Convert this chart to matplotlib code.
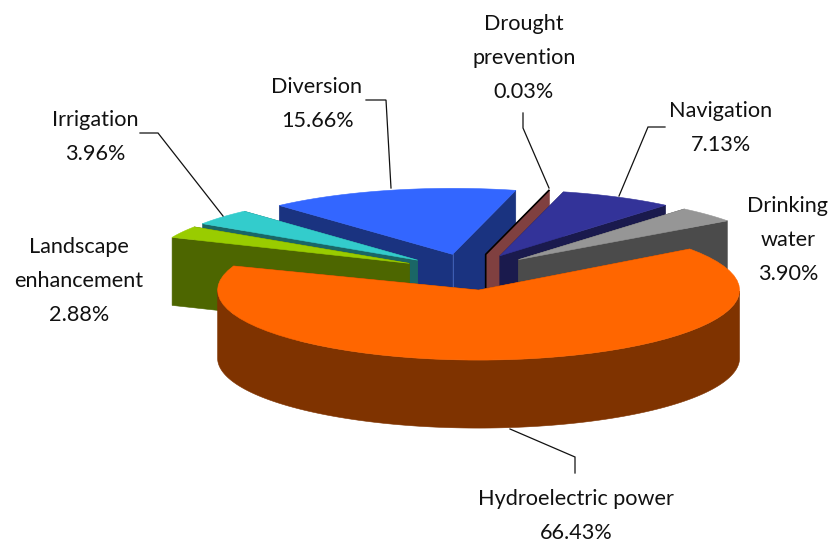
import numpy as np
import matplotlib
matplotlib.use('Agg')
import matplotlib.pyplot as plt
from matplotlib.patches import Polygon

# clockwise from the right hand side of the big slice
names = ['Hydroelectric power', 'Landscape\nenhancement', 'Irrigation', 'Diversion',
         'Drought\nprevention', 'Navigation', 'Drinking\nwater']
shares = [66.43, 2.88, 3.96, 15.66, 0.03, 7.13, 3.90]
top_colors = ['#FF6600', '#99CC00', '#33CCCC', '#3366FF', '#993333', '#333399', '#969696']
side_colors = ['#7F3300', '#4D6600', '#1A6666', '#1A3380', '#804040', '#1A1A4D', '#4B4B4B']

label_x = [576, 79, 95, 317, 524, 721, 788]
label_y = [516, 281, 137, 104, 58, 128, 240]

leaders = [
    ([575, 575, 510], [473, 457, 429]),
    ([140, 158, 223], [133, 133, 216]),
    ([366, 386, 391], [100, 100, 188]),
    ([523, 523, 549], [113, 128, 188]),
    ([665, 648, 619], [127, 127, 196]),
]

# pie geometry, in pixels
cx, cy = 469, 272
rx, ry = 261, 70
depth = 68
start = 36.
explode = 0.26
big_nudge = (2, 0)
big_tip = 3.   # the 3d view squeezes the big slice a little
back_rx, back_ry = 258, 66


def arc(x0, y0, a1, a2, xr, yr, n=60):
    t = np.radians(np.linspace(a1, a2, n))
    return np.c_[x0 + xr*np.cos(t), y0 - yr*np.sin(t)]


fig = plt.figure(figsize=(8.29, 5.44), dpi=100)
ax = fig.add_axes([0, 0, 1, 1])
ax.set_xlim(0, 829)
ax.set_ylim(544, 0)
ax.axis('off')

plt.rcParams['font.family'] = ['Lato', 'DejaVu Sans']

# work out the angles of each slice
fracs = np.array(shares)/sum(shares)*360.
ends = start - np.cumsum(fracs)
starts = ends + fracs
mids = 0.5*(starts + ends)

# back slices first, the front ones paint over them
order = np.argsort(-np.sin(np.radians(mids)))
for z, i in enumerate(order):
    m = np.radians(mids[i])
    x0 = cx + explode*rx*np.cos(m)
    y0 = cy - explode*ry*np.sin(m)
    xr, yr = back_rx, back_ry
    a1, a2 = starts[i], ends[i]
    if i == 0:
        x0 += big_nudge[0]
        y0 += big_nudge[1]
        xr, yr = rx, ry
        a2 += big_tip
    edge = arc(x0, y0, a1, a2, xr, yr)
    down = np.array([0, depth])
    apex = np.array([x0, y0])
    base = 10 + z*3

    # the two cut faces
    for p in (edge[0], edge[-1]):
        quad = [apex, p, p + down, apex + down]
        ax.add_patch(Polygon(quad, fc=side_colors[i], ec=side_colors[i], lw=0.4, zorder=base))

    # outer wall, only the part which faces us
    a = np.linspace(a1, a2, 200)
    front = np.sin(np.radians(a)) <= 0
    if front.any():
        a = a[front]
        rim = arc(x0, y0, a[0], a[-1], xr, yr, 150)
        ax.add_patch(Polygon(np.r_[rim, (rim + down)[::-1]], fc=side_colors[i],
                             ec=side_colors[i], lw=0.4, zorder=base + 1))

    # top surface
    ax.add_patch(Polygon(np.r_[[apex], edge], fc=top_colors[i], ec=top_colors[i], lw=0.4,
                         zorder=base + 2))

    if shares[i] < 0.1:
        # slice is too thin to show, only its edges
        ax.plot([x0, x0, edge[0, 0]], [y0 + depth, y0, edge[0, 1]], color='k', lw=1.2,
                zorder=base + 2)
    if i == 3:
        ax.plot([x0, x0], [y0, y0 + depth], color='#3F5FB5', lw=0.7, zorder=base + 2)

for xs, ys in leaders:
    ax.plot(xs, ys, color='#111111', lw=0.9, zorder=60, solid_joinstyle='miter')

for i in range(len(names)):
    ax.text(label_x[i], label_y[i], '%s\n%.2f%%' % (names[i], shares[i]), ha='center', va='center',
            ma='center', fontsize=15.6, linespacing=1.9, color='#111111', zorder=70)

fig.savefig('out.png', dpi=100)
